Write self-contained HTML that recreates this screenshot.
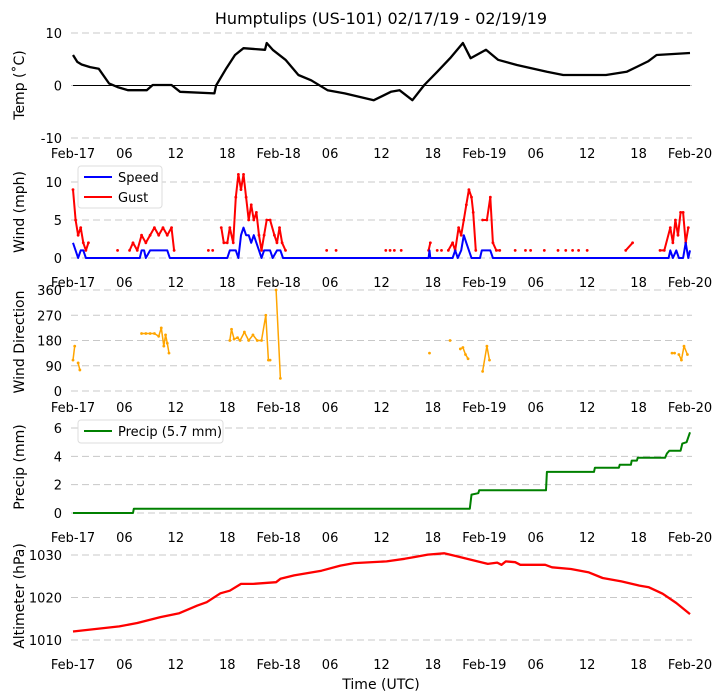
<!DOCTYPE html>
<html><head><meta charset="utf-8"><style>
html,body{margin:0;padding:0;background:#fff;}
svg{display:block;font-family:"DejaVu Sans","Liberation Sans",sans-serif;}
</style></head><body>
<svg id="chart" width="722" height="700" viewBox="0 0 722 700">
<text x="381" y="24" text-anchor="middle" font-size="16">Humptulips (US-101) 02/17/19 - 02/19/19</text>
<text x="381" y="689" text-anchor="middle" font-size="14">Time (UTC)</text>
</svg>
<script>
// ---- data (hours since Feb-17 00 UTC) ----
const xTickLabels = ["Feb-17","06","12","18","Feb-18","06","12","18","Feb-19","06","12","18","Feb-20"];
const tempT = [0,0.5,1,2,3,4.2,5.2,6.4,8.6,9.3,11.5,12.5,16.5,16.7,17.9,18.9,19.9,22.4,22.6,23.3,24.8,26.3,27.8,29.7,31.7,35.1,37.1,38.1,39.6,41.0,42.5,44.0,45.5,46.4,48.2,49.6,51.8,55.3,57.2,62.2,64.6,67.1,68.1,72];
const tempV = [5.8,4.5,4,3.5,3.2,0.4,-0.3,-0.9,-0.9,0.1,0.1,-1.2,-1.5,0,3.3,5.8,7.1,6.8,8.1,6.8,4.9,2.0,1.0,-0.9,-1.5,-2.8,-1.2,-0.9,-2.8,0.1,2.6,5.2,8.1,5.2,6.8,4.9,3.9,2.6,2.0,2.0,2.6,4.6,5.8,6.2];
const speedT = [0,0.3,0.6,0.9,1.2,1.5,7.8,8,8.3,8.5,9,11,11.3,18,18.3,19,19.3,19.6,19.9,20.2,20.5,20.8,21.1,21.4,21.7,22,22.3,23,23.3,23.8,24.2,24.5,41.5,41.6,41.7,44.3,44.6,44.9,45.3,45.6,45.9,46.2,46.5,47.5,47.7,48.7,49,69.5,69.7,70,70.4,70.7,71.2,71.5,71.8,72];
const speedV = [2,1,0,1,1,0,0,1,1,0,1,1,0,0,1,1,0,3,4,3,3,2,3,2,1,0,1,1,0,1,1,0,0,1,0,0,1,0,1,3,2,1,0,0,1,1,0,0,1,0,1,0,0,2,0,1];
const gustT = [0,0.3,0.6,0.9,1.2,1.5,1.8,null,5.2,null,6.6,7,7.5,8,8.5,9,9.5,10,10.5,11,11.5,11.8,null,15.8,null,16.3,null,17.3,17.6,18,18.3,18.7,19,19.3,19.6,19.9,20.2,20.5,20.8,21.1,21.4,21.7,22,22.3,22.6,23,23.5,23.8,24.1,24.4,24.8,null,29.6,null,30.7,null,36.5,null,37,null,37.5,null,38.3,null,41.5,41.7,null,42.5,null,43,null,43.8,44.3,44.6,45,45.3,45.6,45.9,46.2,46.5,46.7,47,null,47.8,48.3,48.7,49,49.4,49.8,null,51.6,null,52.8,null,53.4,null,55,null,56.6,null,57.5,null,58.3,null,59,null,60,null,64.5,65.3,null,68.5,69,69.7,70,70.3,70.6,70.9,71.2,71.5,71.8];
const gustV = [9,5,3,4,2,1,2,null,1,null,1,2,1,3,2,3,4,3,4,3,4,1,null,1,null,1,null,4,2,2,4,2,8,11,9,11,8,5,7,5,6,3,1,3,5,5,3,2,4,2,1,null,1,null,1,null,1,null,1,null,1,null,1,null,1,2,null,1,null,1,null,1,2,1,4,3,5,7,9,8,6,1,null,5,5,8,2,1,1,null,1,null,1,null,1,null,1,null,1,null,1,null,1,null,1,null,1,null,1,2,null,1,1,4,2,5,3,6,6,2,4];
const dirT = [0,0.2,null,0.6,0.8,null,8,8.5,9,9.5,10,10.3,10.6,10.8,11,11.2,null,18.3,18.5,18.8,19.2,19.5,20,20.5,21,21.5,22,22.5,22.8,23,null,23.7,24.2,null,41.6,null,44,null,45.2,45.5,45.8,46.1,null,47.8,48.3,48.6,null,69.9,70.2,null,70.7,71,71.3,71.7];
const dirV = [110,160,null,100,75,null,205,205,205,205,195,225,160,200,170,135,null,180,220,185,190,180,210,180,200,180,180,270,110,110,null,360,45,null,135,null,180,null,150,155,130,115,null,70,160,110,null,135,135,null,130,110,160,130];
const precipT = [0,7,7.1,46.3,46.5,47.3,47.4,55.2,55.3,60.8,60.9,63.7,63.8,65.1,65.2,65.8,65.9,69.1,69.3,69.6,70.9,71.1,71.6,72];
const precipV = [0,0,0.3,0.3,1.3,1.4,1.6,1.6,2.9,2.9,3.2,3.2,3.4,3.4,3.7,3.7,3.9,3.9,4.2,4.4,4.4,4.9,5.0,5.7];
const altT = [0,5.4,7.5,10.2,12.4,14.5,15.6,17.2,18.3,19.6,21,23.7,24.2,25.8,29,31.2,32.8,36.6,38.7,39.8,41.4,43.3,44.6,46.8,48.4,49.5,50,50.5,51.6,52.2,55.1,55.9,58.1,60.2,61.8,64,66.1,67.2,68.8,70.4,72];
const altV = [1012.0,1013.2,1014,1015.4,1016.3,1018.1,1018.9,1021,1021.6,1023.2,1023.2,1023.6,1024.4,1025.2,1026.3,1027.5,1028.1,1028.5,1029.1,1029.5,1030.1,1030.4,1029.8,1028.7,1027.9,1028.2,1027.7,1028.5,1028.3,1027.7,1027.7,1027.1,1026.7,1025.9,1024.6,1023.8,1022.8,1022.4,1020.9,1018.7,1016.1];

const NS="http://www.w3.org/2000/svg";
const svg=document.getElementById('chart');
function mk(tag,attrs,parent){const e=document.createElementNS(NS,tag);for(const k in attrs)e.setAttribute(k,attrs[k]);(parent||svg).appendChild(e);return e;}
const X0=73,X1=690,HMAX=72;
function xs(h){return X0+(h/HMAX)*(X1-X0);}
function yScale(v0,p0,v1,p1){return v=>p0+(v-v0)*(p1-p0)/(v1-v0);}

function panel(name,ys,ticks,labelY,title,titleY){
  const g=mk('g',{});
  
  
  ticks.forEach(t=>{
    const gl=mk('line',{x1:X0-2,x2:X1+2,y1:ys(t),y2:ys(t),stroke:'#c8c8c8','stroke-width':1,'stroke-dasharray':'7,4'},g);
    
    
    const tl=mk('text',{x:62,y:ys(t)+5,'text-anchor':'end','font-size':13},g);
    tl.textContent=t;
    
    
  });
  xTickLabels.forEach((l,i)=>{
    const tx=mk('text',{x:xs(i*6),y:labelY,'text-anchor':'middle','font-size':13},g);
    tx.textContent=l;
    
    
  });
  const yt=mk('text',{x:0,y:0,'text-anchor':'middle','font-size':14,transform:'translate(24,'+titleY+') rotate(-90)'},g);
  yt.textContent=title;
  
  
  return g;
}
function series(g,name,T,V,ys,color,w,dots){
  let d='',pen=false;
  for(let i=0;i<T.length;i++){
    if(T[i]===null||V[i]===null){pen=false;continue;}
    const px=xs(T[i]).toFixed(1),py=ys(V[i]).toFixed(1);
    d+=(pen?'L':'M')+px+','+py;pen=true;
  }
  const p=mk('path',{d:d,fill:'none',stroke:color,'stroke-width':w,'stroke-linejoin':'round'},g);
  
  
  if(dots){
    for(let i=0;i<T.length;i++){
      if(T[i]===null||V[i]===null)continue;
      const c=mk('circle',{cx:xs(T[i]),cy:ys(V[i]),r:1.4,fill:color},g);
      
      
    }
  }
}
// Temp
const yT=yScale(10,33,-10,138);
const gT=panel('temp',yT,[10,0,-10],158,'Temp (˚C)',85);
const zl=mk('line',{x1:X0,x2:X1,y1:yT(0),y2:yT(0),stroke:'#000','stroke-width':1},gT);


series(gT,'temp',tempT,tempV,yT,'#000',2.3,false);
// Wind
const yW=yScale(0,258,10,182);
const gW=panel('wind',yW,[0,5,10],287,'Wind (mph)',212);
series(gW,'gust',gustT,gustV,yW,'#ff0000',2,true);
series(gW,'speed',speedT,speedV,yW,'#0000ff',2,false);
const lg=mk('g',{},gW);


mk('rect',{x:78,y:166,width:84,height:42,rx:3,fill:'#fff',stroke:'#ddd'},lg);
mk('line',{x1:84,x2:112,y1:177,y2:177,stroke:'#0000ff','stroke-width':2},lg);
mk('line',{x1:84,x2:112,y1:197,y2:197,stroke:'#ff0000','stroke-width':2},lg);
const ls=mk('text',{x:118,y:182,'font-size':13},lg);ls.textContent='Speed';


const lgu=mk('text',{x:118,y:202,'font-size':13},lg);lgu.textContent='Gust';


// Direction
const yD=yScale(0,391,360,290);
const gD=panel('direction',yD,[0,90,180,270,360],412,'Wind Direction',342);
series(gD,'direction',dirT,dirV,yD,'#ffa500',1.5,true);
// Precip
const yP=yScale(0,513,6,428);
const gP=panel('precip',yP,[0,2,4,6],542,'Precip (mm)',467);
series(gP,'precip',precipT,precipV,yP,'#008000',2,false);
const pl=mk('g',{},gP);


mk('rect',{x:78,y:420,width:145,height:23,rx:3,fill:'#fff',stroke:'#ddd'},pl);
mk('line',{x1:84,x2:112,y1:431,y2:431,stroke:'#008000','stroke-width':2},pl);
const plt=mk('text',{x:118,y:436,'font-size':13},pl);plt.textContent='Precip (5.7 mm)';


// Altimeter
const yA=yScale(1010,640,1030,555);
const gA=panel('altimeter',yA,[1010,1020,1030],669,'Altimeter (hPa)',596);
series(gA,'altimeter',altT,altV,yA,'#ff0000',2.3,false);
</script>
</body></html>
